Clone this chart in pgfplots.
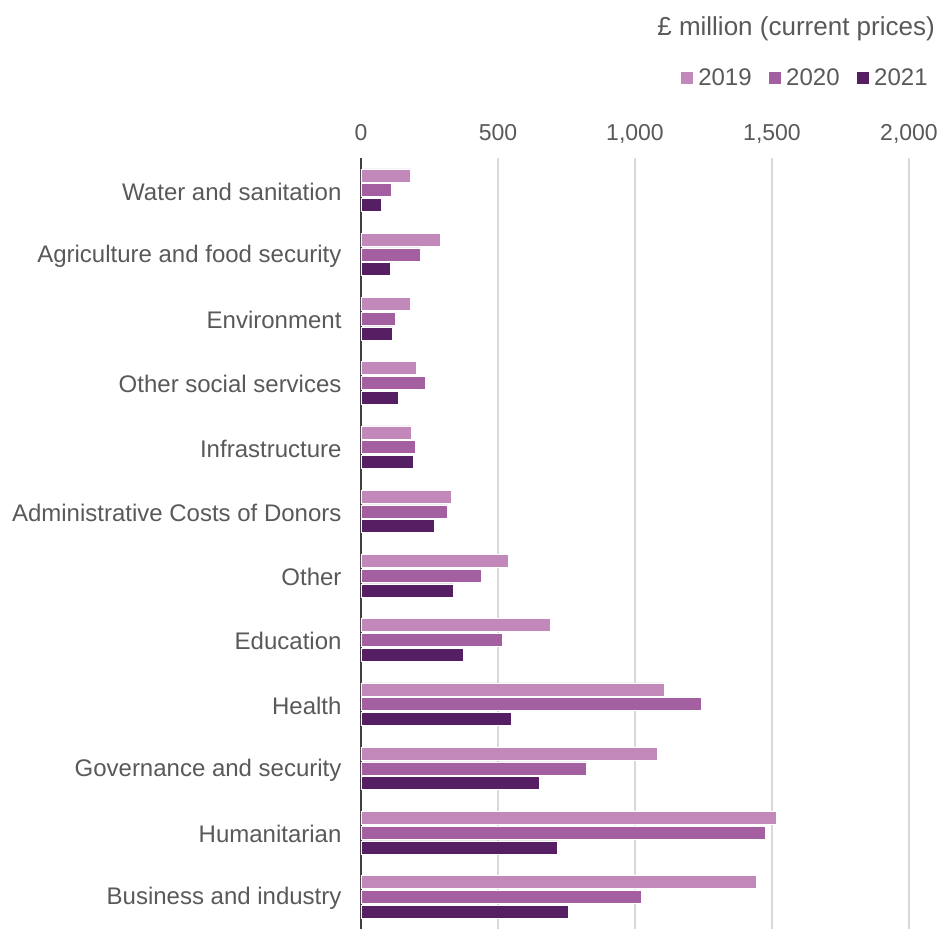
\documentclass[border=0pt]{standalone}
\usepackage{fontspec}
\setmainfont{Liberation Sans}
\usepackage{pgfplots}
\pgfplotsset{compat=1.18}
\definecolor{cA}{HTML}{C288BA}
\definecolor{cB}{HTML}{A35FA0}
\definecolor{cC}{HTML}{561F63}
\definecolor{txt}{HTML}{595959}
\definecolor{grd}{HTML}{D9D9D9}
\definecolor{axl}{HTML}{404040}
\begin{document}
\begin{tikzpicture}
\useasboundingbox (-361pt,0pt) rectangle (580pt,929pt);
\begin{axis}[
  at={(0pt,0pt)}, anchor=south west,
  scale only axis,
  width=548pt, height=771pt,
  xbar, bar width=13pt,
  xmin=0, xmax=2000,
  ymin=-0.5, ymax=11.5,
  xtick={0,500,1000,1500,2000},
  ytick={0,...,11},
  yticklabels={Business and industry,Humanitarian,Governance and security,Health,Education,Other,Administrative Costs of Donors,Infrastructure,Other social services,Environment,Agriculture and food security,Water and sanitation},
  scaled x ticks=false,
  /pgf/number format/assume math mode=true,
  /pgf/number format/1000 sep={,},
  axis x line*=top,
  axis y line*=left,
  x axis line style={draw=none},
  y axis line style={draw=axl, line width=2pt},
  major tick length=0pt,
  xmajorgrids,
  grid style={grd, line width=1.5pt},
  xticklabel style={font=\fontsize{23}{27}\selectfont, text=txt, anchor=base, yshift=17pt},
  yticklabel style={font=\fontsize{24}{28}\selectfont, text=txt, xshift=-16pt, yshift=-1.5pt},
  legend style={draw=none, fill=none, at={(1.038,1.104)}, anchor=east,
    legend columns=3, font=\fontsize{24}{28}\selectfont, text=txt,
    /tikz/every odd column/.append style={column sep=3pt},
    /tikz/every even column/.append style={column sep=14pt},
    inner sep=0pt},
  legend image code/.code={\fill[#1] (0pt,-6.5pt) rectangle (13pt,6.5pt);},
  legend cell align=left,
  clip=false,
]
\addplot[fill=cA, draw=white, line width=0.6pt, bar shift=14.7pt] coordinates {
(1442,0) (1517,1) (1082,2) (1107,3) (692,4) (536,5) (328,6) (182,7) (202,8) (180,9) (290,10) (181,11)};
\addplot[fill=cB, draw=white, line width=0.6pt, bar shift=0pt] coordinates {
(1023,0) (1476,1) (822,2) (1242,3) (517,4) (440,5) (315,6) (197,7) (236,8) (127,9) (218,10) (112,11)};
\addplot[fill=cC, draw=white, line width=0.6pt, bar shift=-14.7pt] coordinates {
(756,0) (717,1) (650,2) (547,3) (372,4) (337,5) (269,6) (191,7) (136,8) (116,9) (108,10) (75,11)};
\legend{2019,2020,2021}
\node[anchor=east, text=txt, font=\fontsize{26}{30}\selectfont, inner sep=0pt] at (axis description cs:1.0474,1.168) {£ million (current prices)};
\end{axis}
\end{tikzpicture}
\end{document}
